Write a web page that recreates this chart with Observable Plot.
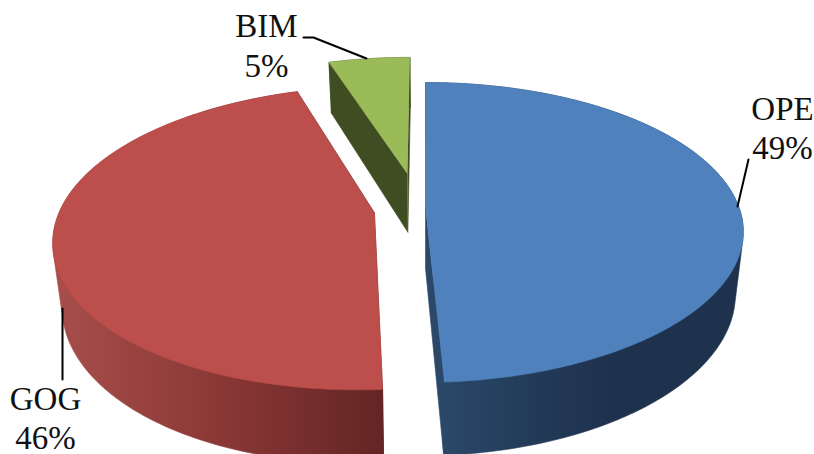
<!DOCTYPE html>
<html>
<head>
<meta charset="utf-8">
<title>Share by category</title>
<style>
  html, body { margin: 0; padding: 0; background: #fff; }
  svg { display: block; }
</style>
<script src="https://cdn.jsdelivr.net/npm/d3@7"></script>
<script src="https://cdn.jsdelivr.net/npm/@observablehq/plot@0.6"></script>
</head>
<body>
<script>
// Clockwise from twelve o'clock
const names = ["OPE", "GOG", "BIM"];
const shares = [49, 46, 5];
const topColors = ["#4f81bd", "#bc4e4b", "#9bbb59"];
const wallFills = ["url(#wall-ope)", "url(#wall-gog)", "#404d22"];

// Each slice is pulled out of the pie along the table plane
const explode = [[0, 0], [-0.162, -0.035], [-0.06, 0.2426]];

// Perspective camera for the tilted disc
const W = 814, H = 454;
const cam = {px: 425, py: 207, a: 145.8, b: 313.5, k: 1 / 6, skew: 5, depth: 61, shrink: 0.975};

function project(u, v, lower) {
  const s = 1 / (1 + cam.k * v);
  const near = Math.min(0, v);
  const x = cam.b * u * s - cam.skew * near * near, y = cam.a * v * s;
  return lower
    ? {x: cam.px + x * cam.shrink, y: cam.py - y + cam.depth * s}
    : {x: cam.px + x, y: cam.py - y};
}

let cumulative = 0;
const slices = shares.map((share, i) => {
  const start = cumulative / 100 * 2 * Math.PI;
  cumulative += share;
  const end = cumulative / 100 * 2 * Math.PI;
  const steps = Math.max(8, Math.round(share * 4));
  const rim = d3.range(steps + 1).map(j => {
    const t = start + (end - start) * j / steps;
    return [Math.sin(t) + explode[i][0], Math.cos(t) + explode[i][1]];
  });
  const apex = explode[i];
  const apexTop = project(apex[0], apex[1], false);
  const apexLow = project(apex[0], apex[1], true);
  const rimTop = rim.map(([u, v]) => project(u, v, false));
  const rimLow = rim.map(([u, v]) => project(u, v, true));
  // The outer wall is the hull of both rims, which gives it a clean tangent silhouette
  const hull = d3.polygonHull([...rimTop, ...rimLow].map(p => [p.x, p.y]))
    .map(([x, y]) => ({x, y}));
  return {
    top: [apexTop, ...rimTop],
    hull,
    startWall: [apexTop, rimTop[0], rimLow[0], apexLow],
    endWall: [apexTop, rimTop[steps], rimLow[steps], apexLow]
  };
});

const polygon = (points, fill) =>
  Plot.line(points, {x: "x", y: "y", fill, stroke: fill, strokeWidth: 0.6, curve: "linear"});

// Category labels and their leader lines
const labels = [
  {name: 0, x: 782, y1: 120, y2: 159},
  {name: 1, x: 45, y1: 410, y2: 449},
  {name: 2, x: 266, y1: 37, y2: 77}
];
const labelRows = labels.flatMap(l => [
  {x: l.x, y: l.y1, text: names[l.name]},
  {x: l.x, y: l.y2, text: shares[l.name] + "%"}
]);
const leaders = [
  [{x: 748, y: 159}, {x: 737, y: 206}],
  [{x: 62, y: 308}, {x: 62, y: 379}],
  [{x: 303, y: 37}, {x: 313, y: 37}, {x: 366, y: 58}]
];

function gradient(id, x1, x2, stops) {
  const g = d3.create("svg:linearGradient")
    .attr("id", id)
    .attr("gradientUnits", "userSpaceOnUse")
    .attr("x1", x1).attr("x2", x2).attr("y1", 0).attr("y2", 0);
  stops.forEach(([offset, color]) =>
    g.append("stop").attr("offset", offset).attr("stop-color", color));
  return g.node();
}

function wallGradients() {
  const defs = d3.create("svg:defs");
  defs.append(() => gradient("wall-ope", 444, 610, [[0, "#2b4869"], [0.55, "#223a58"], [1, "#1f324d"]]));
  defs.append(() => gradient("wall-gog", 55, 383, [[0, "#a74e4b"], [0.5, "#8a3836"], [1, "#632524"]]));
  return defs.node();
}

const walls = slices.flatMap((s, i) => [
  polygon(s.hull, wallFills[i]),
  polygon(s.startWall, wallFills[i]),
  polygon(s.endWall, wallFills[i])
]);
const tops = slices.map((s, i) => polygon(s.top, topColors[i]));

const chart = Plot.plot({
  width: W,
  height: H,
  margin: 0,
  x: {domain: [0, W], range: [0, W], axis: null},
  y: {domain: [0, H], range: [0, H], axis: null},
  marks: [
    wallGradients,
    ...walls,
    ...tops,
    ...leaders.map(points => Plot.line(points, {x: "x", y: "y", stroke: "#000", strokeWidth: 2, curve: "linear"})),
    Plot.text(labelRows, {
      x: "x", y: "y", text: "text",
      fontFamily: "'Liberation Serif', serif",
      fontSize: 33,
      fill: "#111",
      textAnchor: "middle",
      lineAnchor: "bottom",
      dy: -1
    })
  ]
});
document.body.append(chart);
</script>
</body>
</html>
